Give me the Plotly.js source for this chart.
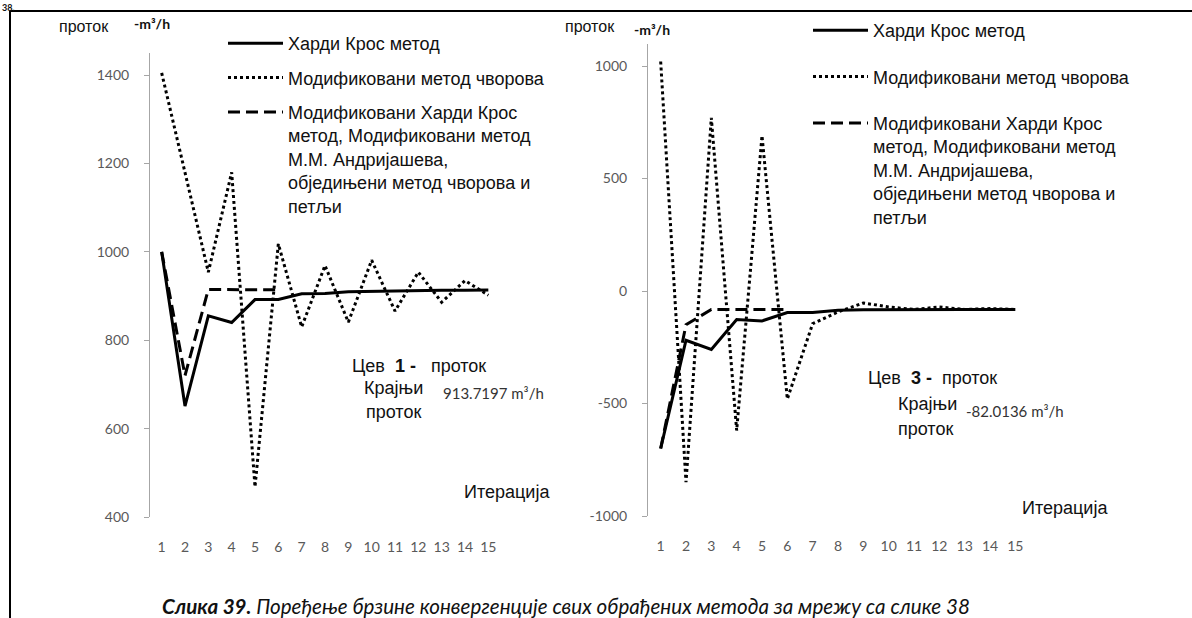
<!DOCTYPE html>
<html>
<head>
<meta charset="utf-8">
<script src="https://cdn.plot.ly/plotly-3.0.1.min.js"></script>
<style>html,body{margin:0;padding:0;background:#fff;}#chart{width:1192px;height:618px;}</style>
</head>
<body>
<div id="chart"></div>
<script>
// ---- data ----
const iterations = [1, 2, 3, 4, 5, 6, 7, 8, 9, 10, 11, 12, 13, 14, 15];
const seriesNames = [
  "Харди Крос метод",
  "Модификовани метод чворова",
  "Модификовани Харди Крос<br>метод, Модификовани метод<br>М.М. Андријашева,<br>обједињени метод чворова и<br>петљи"
];
// Pipe 1
const pipe1Hardy    = [1000, 651, 855, 840, 892, 892, 905, 906, 910, 911, 912, 913, 913, 913, 913.7];
const pipe1Nodes    = [1405, 1178, 954, 1180, 468, 1018, 830, 969, 841, 981, 866, 954, 886, 935, 902];
const pipe1Modified = [1000, 720, 915, 914, 914, 914];
// Pipe 3
const pipe3Hardy    = [-700, -219, -260, -127, -133, -96, -96, -86, -83, -82, -82, -82, -82, -82, -82];
const pipe3Nodes    = [1020, -850, 770, -620, 690, -480, -145, -93, -53, -71, -82, -71, -82, -78, -82];
const pipe3Modified = [-700, -150, -82, -82, -82, -82];

const yTicks1 = [400, 600, 800, 1000, 1200, 1400];
const yTicks3 = [-1000, -500, 0, 500, 1000];

// ---- layout helpers ----
const W = 1192, H = 618;
const px = v => v / W;
const py = v => 1 - v / H;

const range1 = [400, 1450];
const range3 = [-1000, 1100];
const xRange = [0.5, 15.5];
const dom1x = [px(150), px(500)], dom1y = [py(517), py(53)];
const dom3x = [px(648), px(1028)], dom3y = [py(516), py(43.5)];
const zeroPos = dom3y[0] + (0 - range3[0]) / (range3[1] - range3[0]) * (dom3y[1] - dom3y[0]);
const boundaries = iterations.map(v => v - 0.5).concat([iterations[iterations.length - 1] + 0.5]);

const axisGray = '#a6a6a6';
const tickFont = {family: 'Lato, "Open Sans", sans-serif', size: 14, color: '#595959'};
const textFont = {family: '"Liberation Sans", Arial, sans-serif', size: 18, color: '#111'};

const solid = {color: '#000', width: 3, dash: 'solid'};
const dotted = {color: '#000', width: 3, dash: 'dot'};
const dashed = {color: '#000', width: 3, dash: '12px,6px'};

const traces = [
  {x: iterations, y: pipe1Hardy, name: seriesNames[0], mode: 'lines', line: solid, xaxis: 'x', yaxis: 'y', legend: 'legend', legendgroup: 'a'},
  {x: iterations, y: pipe1Nodes, name: seriesNames[1], mode: 'lines', line: dotted, xaxis: 'x', yaxis: 'y', legend: 'legend', legendgroup: 'b'},
  {x: iterations.slice(0, pipe1Modified.length), y: pipe1Modified, name: seriesNames[2], mode: 'lines', line: dashed, xaxis: 'x', yaxis: 'y', legend: 'legend', legendgroup: 'c'},
  {x: iterations, y: pipe3Hardy, name: seriesNames[0], mode: 'lines', line: solid, xaxis: 'x2', yaxis: 'y2', legend: 'legend2', legendgroup: 'd'},
  {x: iterations, y: pipe3Nodes, name: seriesNames[1], mode: 'lines', line: dotted, xaxis: 'x2', yaxis: 'y2', legend: 'legend2', legendgroup: 'e'},
  {x: iterations.slice(0, pipe3Modified.length), y: pipe3Modified, name: seriesNames[2], mode: 'lines', line: dashed, xaxis: 'x2', yaxis: 'y2', legend: 'legend2', legendgroup: 'f'}
];

const labelAxis = (dom, anchor) => ({
  domain: dom, anchor: anchor, range: xRange, showgrid: false, zeroline: false, showline: false,
  ticks: '', tickvals: iterations, ticktext: iterations.map(String), tickfont: tickFont,
  ticklabelstandoff: 20, fixedrange: true
});
const tickAxis = (overlay, anchor, extra) => Object.assign({
  overlaying: overlay, anchor: anchor, range: xRange, showgrid: false, zeroline: false,
  showline: true, linecolor: axisGray, linewidth: 1, ticks: 'outside', ticklen: 6, tickcolor: axisGray,
  tickvals: boundaries, showticklabels: false, fixedrange: true
}, extra || {});
const yAxis = (dom, anchor, range, tv) => ({
  domain: dom, anchor: anchor, range: range, showgrid: false, zeroline: false,
  showline: true, linecolor: axisGray, linewidth: 1, ticks: 'outside', ticklen: 5, tickcolor: axisGray,
  tickvals: tv, ticktext: tv.map(String), tickfont: tickFont, ticklabelstandoff: 12, fixedrange: true
});

const ann = (text, x, y, font, xanchor) => ({
  text: text, xref: 'paper', yref: 'paper', x: px(x), y: py(y), xanchor: xanchor || 'left', yanchor: 'middle',
  showarrow: false, font: Object.assign({}, textFont, font || {})
});
const smallFont = {family: 'Lato, "Open Sans", sans-serif', size: 15, color: '#333'};
const unitFont = {family: 'Lato, "Open Sans", sans-serif', size: 14, color: '#111'};

const legendBase = {xanchor: 'left', yanchor: 'top', bgcolor: 'rgba(0,0,0,0)', font: textFont,
  valign: 'top', itemwidth: 55, traceorder: 'grouped'};

const layout = {
  width: W, height: H,
  margin: {l: 0, r: 0, t: 0, b: 0},
  paper_bgcolor: '#fff', plot_bgcolor: 'rgba(0,0,0,0)',
  showlegend: true,
  xaxis: labelAxis(dom1x, 'y'),
  yaxis: yAxis(dom1y, 'x', range1, yTicks1),
  xaxis2: labelAxis(dom3x, 'y2'),
  yaxis2: yAxis(dom3y, 'x2', range3, yTicks3),
  xaxis3: tickAxis('x', 'y'),
  xaxis4: tickAxis('x2', 'free', {position: zeroPos}),
  legend: Object.assign({x: px(223), y: py(25), tracegroupgap: 8}, legendBase),
  legend2: Object.assign({x: px(808), y: py(12), tracegroupgap: 20}, legendBase),
  shapes: [
    {type: 'line', xref: 'paper', yref: 'paper', x0: px(10), x1: 1, y0: py(11), y1: py(11), line: {color: '#000', width: 2}},
    {type: 'line', xref: 'paper', yref: 'paper', x0: px(10), x1: px(10), y0: 0, y1: py(11), line: {color: '#000', width: 2}}
  ],
  annotations: [
    {text: '<b>38.</b>', xref: 'paper', yref: 'paper', x: 0, y: 1, xanchor: 'left', yanchor: 'top',
     showarrow: false, font: {family: 'Lato, sans-serif', size: 9, color: '#111'}},
    ann('проток', 57, 27, {size: 16}),
    ann('<b>-m³/h</b>', 132, 24, unitFont),
    ann('Цев  <b>1 -</b>   проток', 350, 366),
    ann('Крајњи', 362, 388),
    ann('913.7197 m³/h', 441, 393, smallFont),
    ann('проток', 364, 412),
    ann('Итерација', 462, 492),
    ann('проток', 563, 27, {size: 16}),
    ann('<b>-m³/h</b>', 632, 29, unitFont),
    ann('Цев  <b>3 -</b>  проток', 866, 378),
    ann('Крајњи', 896, 404),
    ann('-82.0136 m³/h', 964, 411, smallFont),
    ann('проток', 896, 429),
    ann('Итерација', 1020, 508),
    ann('<b><i>Слика 39.</i></b><i> Поређење брзине конвергенције свих обрађених метода за мрежу са слике 38</i>', 566, 606,
      {family: 'Lato, "Open Sans", sans-serif', size: 20.6, color: '#111'}, 'center')
  ]
};

Plotly.newPlot('chart', traces, layout, {staticPlot: true, displayModeBar: false});
</script>
</body>
</html>
